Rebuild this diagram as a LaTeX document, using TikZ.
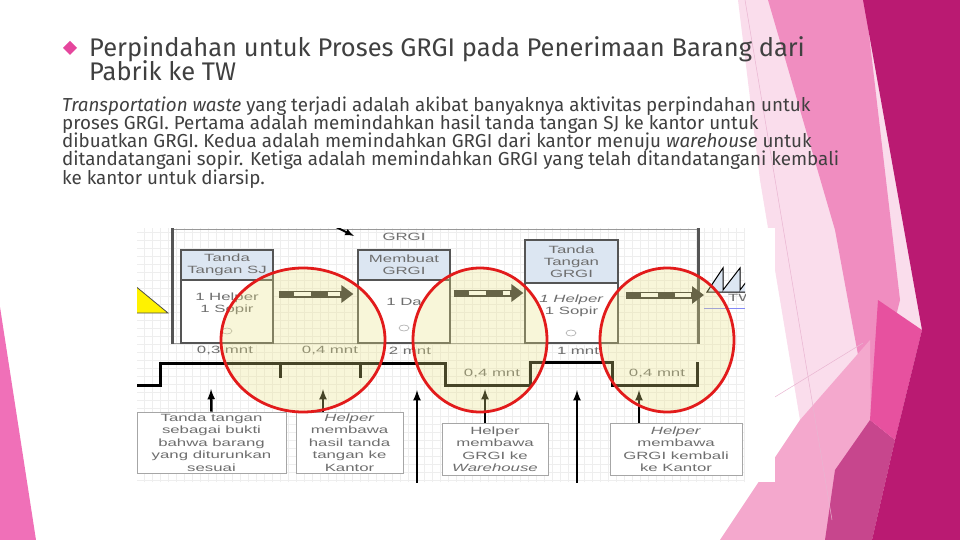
\documentclass[tikz,border=0pt]{standalone}
\usepackage{fontspec}
\setmainfont{Fira Sans}
\newfontfamily\diagfont[FakeStretch=1.6]{Liberation Sans}
\usetikzlibrary{arrows.meta}
\definecolor{txtgray}{HTML}{404040}
\definecolor{bulletpink}{HTML}{E5469D}
\definecolor{leftpink}{HTML}{F070B8}
\definecolor{pinkpale}{HTML}{FADDEC}
\definecolor{pinkmed}{HTML}{F08DC0}
\definecolor{pinklight}{HTML}{F4A8CD}
\definecolor{pinkvivid}{HTML}{E7519F}
\definecolor{pinkmid}{HTML}{C7468D}
\definecolor{pinkdark}{HTML}{BA1A72}
\definecolor{hdrblue}{HTML}{DCE6F2}
\definecolor{boxline}{HTML}{555555}
\definecolor{diaggray}{HTML}{6E6E6E}
\definecolor{hlyellow}{HTML}{EBE482}
\definecolor{circred}{HTML}{E21B1B}
\definecolor{arrowdark}{HTML}{2E2E2E}
\begin{document}
\begin{tikzpicture}[x=1pt,y=-1pt]
\tikzstyle{slidetitle}=[anchor=base west, inner sep=0pt, text=txtgray, font=\fontsize{25.5}{27}\selectfont]
\tikzstyle{slidebody}=[anchor=base west, inner sep=0pt, text=txtgray, font=\fontsize{18.8}{18}\selectfont]
\tikzstyle{hdr}=[draw=boxline, fill=hdrblue, line width=1.2pt, inner sep=0pt, align=center, text=diaggray, font=\diagfont\fontsize{10.5}{12}\selectfont, minimum width=92pt]
\tikzstyle{bdy}=[draw=boxline, fill=white, line width=1.2pt, inner sep=0pt, align=center, text=diaggray, font=\diagfont\fontsize{10.5}{12}\selectfont, minimum width=92pt]
\tikzstyle{note}=[draw=gray!70, fill=white, line width=0.8pt, inner sep=0pt, align=center, text=diaggray, font=\diagfont\fontsize{10.5}{12.5}\selectfont]
\tikzstyle{timelbl}=[inner sep=0pt, text=diaggray, font=\diagfont\fontsize{10.5}{11}\selectfont]
\tikzstyle{uparrow}=[-latex, line width=2.5pt]
\tikzstyle{hl}=[fill=hlyellow, fill opacity=0.3, draw=circred, line width=2.8pt]
\useasboundingbox (0,0) rectangle (960,540);
\fill[white] (0,0) rectangle (960,540);
%
% slide decoration
\fill[leftpink] (0,307) -- (36,540) -- (0,540) -- cycle;
\fill[pinkpale] (738,0) -- (960,0) -- (960,540) -- (720,540) -- (800,420) -- (760,180) -- cycle;
\fill[pinkmed] (768,0) -- (865,0) -- (900,300) -- (870,420) -- (835,230) -- cycle;
\fill[pinklight] (720,540) -- (800,420) -- (870,340) -- (872,540) -- cycle;
\fill[pinkmid] (835,470) -- (870,420) -- (895,440) -- (872,540) -- (825,540) -- cycle;
\fill[pinkvivid] (878,300) -- (922,330) -- (895,440) -- (870,420) -- cycle;
\fill[pinkdark] (863,0) -- (960,0) -- (960,540) -- (872,540) -- (895,440) -- (922,330) -- cycle;
\draw[pinkmid!40, line width=0.5pt] (745,0) -- (832,520);
\draw[pinkmid!40, line width=0.5pt] (770,400) -- (863,343);
%
% title and text
\fill[bulletpink] (70,41) -- (77,48) -- (70,55) -- (63,48) -- cycle;
\node[slidetitle] at (89,57) (title1) {Perpindahan untuk Proses GRGI pada Penerimaan Barang dari};
\node[slidetitle] at (89,81) (title2) {Pabrik ke TW};
\node[slidebody] at (62,112) (body1) {\textit{Transportation waste} yang terjadi adalah akibat banyaknya aktivitas perpindahan untuk};
\node[slidebody] at (62,130) (body2) {proses GRGI. Pertama adalah memindahkan hasil tanda tangan SJ ke kantor untuk};
\node[slidebody] at (62,148) (body3) {dibuatkan GRGI. Kedua adalah memindahkan GRGI dari kantor menuju \textit{warehouse} untuk};
\node[slidebody] at (62,166) (body4) {ditandatangani sopir. Ketiga adalah memindahkan GRGI yang telah ditandatangani kembali};
\node[slidebody] at (62,184) (body5) {ke kantor untuk diarsip.};
%
% value stream picture
\fill[white] (137,228) rectangle (775,482);
\begin{scope}
\clip (137,228) rectangle (745,482);
\draw[gray!13, line width=0.4pt, step=8pt] (137,482) grid (745,228);
%
\draw[boxline!60, line width=0.6pt] (172,229) -- (698,229);
\draw[boxline!60, line width=0.6pt] (172,343) -- (698,343);
\draw[boxline, line width=3pt] (172,228) -- (172,344);
\draw[boxline, line width=3pt] (698,228) -- (698,344);
\draw[fill=yellow, draw=black!70, line width=0.8pt] (128,280) -- (168,313) -- (128,313) -- cycle;
%
\node[hdr, minimum height=30pt] at (227,265) (h1) {Tanda\\Tangan SJ};
\node[bdy, minimum height=63pt] at (227,311.5) (b1) {1 Helper\\1 Sopir\\[5pt]};
\node[hdr, minimum height=30pt] at (404,265) (h2) {Membuat\\GRGI};
\node[bdy, minimum height=63pt] at (404,311.5) (b2) {1 Da\\[8pt]};
\node[hdr, minimum height=43pt, minimum width=93pt] at (571.5,261.5) (h3) {Tanda\\Tangan\\GRGI};
\node[bdy, minimum height=60pt, minimum width=93pt] at (571.5,313) (b3) {\textit{1 Helper}\\1 Sopir\\[5pt]};
\draw[gray!60, line width=0.7pt] (227,331) ellipse [x radius=5, y radius=3];
\draw[gray!60, line width=0.7pt] (404,328) ellipse [x radius=5, y radius=3];
\draw[gray!60, line width=0.7pt] (571,333) ellipse [x radius=5, y radius=3];
\node[timelbl] at (404,237) (grgi) {GRGI};
\coordinate (infoA) at (334,226);
\coordinate (infoB) at (354,236);
\draw[-latex, line width=2pt] (infoA) -- (infoB);
%
% push arrows
\coordinate (tw) at (704,295);
\draw[arrowdark, line width=7pt, -{Triangle[length=12pt,width=17pt]}] ([xshift=5pt,yshift=17.5pt]b1.east) -- ([xshift=-4pt,yshift=17.5pt]b2.west);
\draw[white, line width=4pt, dash pattern=on 17pt off 17pt, dash phase=19pt, shorten >=13pt] ([xshift=5pt,yshift=17.5pt]b1.east) -- ([xshift=-4pt,yshift=17.5pt]b2.west);
\draw[arrowdark, line width=7pt, -{Triangle[length=12pt,width=17pt]}] ([xshift=3pt,yshift=18.5pt]b2.east) -- ([xshift=-1pt,yshift=20pt]b3.west);
\draw[white, line width=4pt, dash pattern=on 17pt off 17pt, dash phase=19pt, shorten >=13pt] ([xshift=3pt,yshift=18.5pt]b2.east) -- ([xshift=-1pt,yshift=20pt]b3.west);
\draw[arrowdark, line width=7pt, -{Triangle[length=12pt,width=17pt]}] ([xshift=7pt,yshift=18pt]b3.east) -- (tw);
\draw[white, line width=4pt, dash pattern=on 17pt off 17pt, dash phase=19pt, shorten >=13pt] ([xshift=7pt,yshift=18pt]b3.east) -- (tw);
%
% warehouse TW
\draw[fill=hdrblue, draw=black, line width=1pt] (707,292) -- (723,268) -- (723,290) -- (740,268) -- (740,290) -- (757,268) -- (757,292) -- cycle;
\node[timelbl, anchor=west] at (728,298) (twlbl) {TW};
\draw[hdrblue!60!blue, line width=0.6pt] (704,308) -- (745,308);
%
% timeline
\draw[line width=3pt] (130,385) -- (160,385) -- (160,363) -- (445,363) -- (445,385) -- (530,385) -- (530,362) -- (612,362) -- (612,385) -- (697,385) -- (697,362);
\draw[line width=3pt] (280,363) -- (280,378);
\draw[line width=3pt] (360,363) -- (360,378);
\node[timelbl] at (225,351) (t1) {0,3 mnt};
\node[timelbl] at (330,351) (t2) {0,4 mnt};
\node[timelbl] at (410,351) (t3) {2 mnt};
\node[timelbl] at (578,351) (t4) {1 mnt};
\node[timelbl] at (492,374) (t5) {0,4 mnt};
\node[timelbl] at (657,374) (t6) {0,4 mnt};
%
% notes below
\node[note, minimum width=149pt, minimum height=61pt] at (211.5,442.5) (nA) {Tanda tangan\\sebagai bukti\\bahwa barang\\yang diturunkan\\sesuai};
\node[note, minimum width=107pt, minimum height=61pt] at (349.5,442.5) (nB) {\textit{Helper}\\membawa\\hasil tanda\\tangan ke\\Kantor};
\node[note, minimum width=106pt, minimum height=52pt] at (495,449) (nC) {Helper\\membawa\\GRGI ke\\\textit{Warehouse}};
\node[note, minimum width=132pt, minimum height=52pt] at (676,449) (nD) {\textit{Helper}\\membawa\\GRGI kembali\\ke Kantor};
\coordinate (tA) at (211,389);
\coordinate (tB) at (323,389);
\coordinate (tC) at (485,389);
\coordinate (tD) at (639,390);
\coordinate (tE) at (417,390);
\coordinate (tF) at (577,390);
\coordinate (lowE) at (417,490);
\coordinate (lowF) at (577,490);
\draw[uparrow] (nA.north) -- (tA);
\draw[uparrow] (nB.north -| tB) -- (tB);
\draw[uparrow] (nC.north -| tC) -- (tC);
\draw[uparrow] (nD.north -| tD) -- (tD);
\draw[uparrow] (lowE) -- (tE);
\draw[uparrow] (lowF) -- (tF);
%
% highlighted circles
\draw[hl] (303,340) ellipse [x radius=82, y radius=72];
\draw[hl] (480,340) ellipse [x radius=67, y radius=72];
\draw[hl] (667,340) ellipse [x radius=67, y radius=72];
\end{scope}
\end{tikzpicture}
\end{document}
